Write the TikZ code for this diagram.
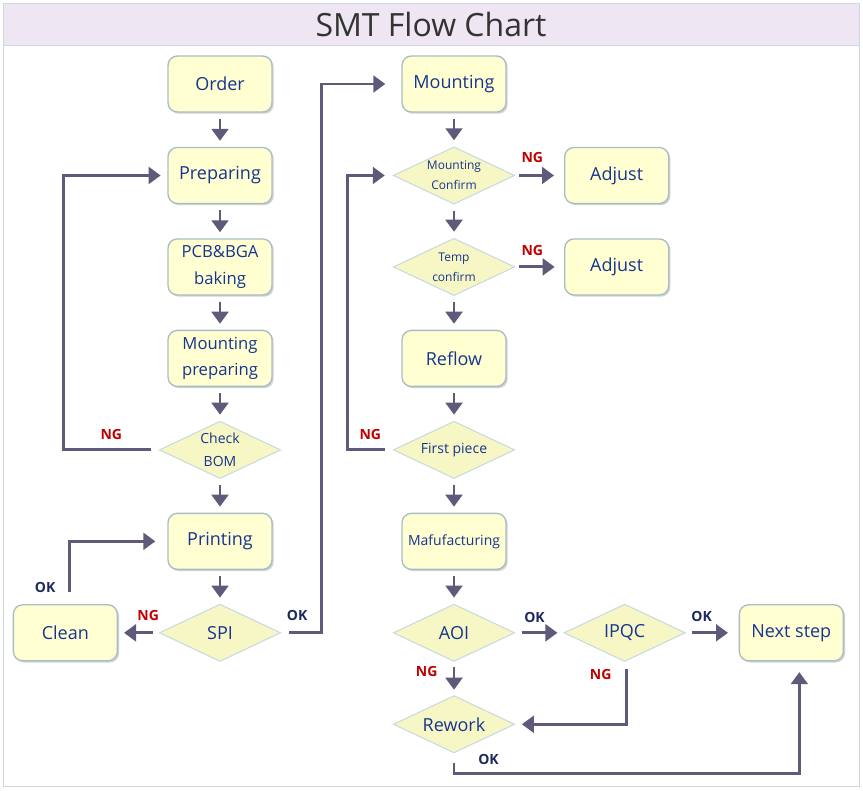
\documentclass[tikz,border=0pt]{standalone}
\usepackage{fontspec}
\setmainfont{Open Sans}
\usepackage{tikz}
\usetikzlibrary{arrows.meta,shapes.geometric,shadows,positioning}
\definecolor{boxfill}{HTML}{FFFFD2}
\definecolor{boxline}{HTML}{A9BDC6}
\definecolor{dmdfill}{HTML}{F7F7C6}
\definecolor{dmdline}{HTML}{C9DADF}
\definecolor{txt}{HTML}{17358E}
\definecolor{arr}{HTML}{5E5A7A}
\definecolor{ngred}{HTML}{C00000}
\definecolor{okblue}{HTML}{1F2A5C}
\definecolor{band}{HTML}{EEE6F2}
\definecolor{frame}{HTML}{D3D6E0}
\tikzset{node distance=68.6pt,
  box/.style={draw=boxline, line width=1pt, fill=boxfill, rounded corners=7pt,
    minimum width=78pt, minimum height=42pt, text=txt, align=center,
    font=\fontsize{13.5}{16}\selectfont,
    drop shadow={shadow xshift=1.3pt, shadow yshift=-1.3pt, opacity=0.35}},
  dmd/.style={diamond, aspect=2.1, draw=dmdline, line width=0.8pt, fill=dmdfill,
    minimum width=91pt, minimum height=43pt, inner sep=0pt, text=txt, align=center,
    font=\fontsize{13.5}{16}\selectfont},
  flow/.style={draw=arr, line width=2.2pt, -{Triangle[width=12.5pt,length=9pt]}},
  ng/.style={text=ngred, font=\bfseries\fontsize{10.5}{12}\selectfont},
  ok/.style={text=okblue, font=\bfseries\fontsize{10.5}{12}\selectfont}}
\begin{document}
\begin{tikzpicture}[x=0.75pt,y=-0.75pt]
                \useasboundingbox (0,0) rectangle (863,790);
                \draw[frame, fill=white] (3,3) rectangle (859,786);
                \draw[frame, fill=band] (3,3) rectangle (859,45);
                \node[text=black!80, font=\fontsize{24}{28}\selectfont] (ttl) at (431,24) {SMT Flow Chart};
                \node[box] (ord) at (220,84) {Order};
                \node[box, below of=ord] (prep) {Preparing};
                \node[box, below of=prep, font=\fontsize{12.5}{20}\selectfont] (pcb) {PCB\&BGA\\baking};
                \node[box, below of=pcb, font=\fontsize{12.5}{20}\selectfont] (mprep) {Mounting\\preparing};
                \node[dmd, below of=mprep, font=\fontsize{10.5}{17}\selectfont] (chk) {Check\\BOM};
                \node[box, below of=chk] (prt) {Printing};
                \node[dmd, below of=prt] (spi) {SPI};
                \node[box, left of=spi, node distance=116pt] (cln) {Clean};
                \node[box] (mnt) at (454,84) {Mounting};
                \node[dmd, below of=mnt, font=\fontsize{9}{15}\selectfont] (mc) {Mounting\\Confirm};
                \node[box, right of=mc, node distance=122pt] (adj1) {Adjust};
                \node[dmd, below of=mc, font=\fontsize{9}{15}\selectfont] (tmp) {Temp\\confirm};
                \node[box, right of=tmp, node distance=122pt] (adj2) {Adjust};
                \node[box, below of=tmp] (rfl) {Reflow};
                \node[dmd, below of=rfl, font=\fontsize{10.5}{12}\selectfont] (fp) {First piece};
                \node[box, below of=fp, font=\fontsize{10.5}{12}\selectfont] (maf) {Mafufacturing};
                \node[dmd, below of=maf] (aoi) {AOI};
                \node[dmd, right of=aoi, node distance=128pt] (ipqc) {IPQC};
                \node[box, right of=ipqc, node distance=125pt] (nxt) {Next step};
                \node[dmd, below of=aoi] (rwk) {Rework};
                \foreach \a/\b in {ord/prep, prep/pcb, pcb/mprep, mprep/chk, chk/prt, prt/spi,
                  mnt/mc, mc/tmp, tmp/rfl, rfl/fp, fp/maf, maf/aoi}
                  \draw[flow, shorten <=4.5pt, shorten >=4.5pt] (\a) -- (\b);
                \draw[flow, shorten <=6pt, shorten >=5pt] (chk.west) -- node[ng, above=3pt] {NG} ++(-95,0) |- (prep.west);
                \draw[flow, shorten <=4pt, shorten >=4.5pt] (spi.west) -- node[ng, above=5pt, pos=0.26] {NG} (cln.east);
                \draw[flow, shorten <=9pt, shorten >=9pt] ([xshift=3pt]cln.north) |- node[ok, left=6pt, pos=0.13] {OK} (prt.west);
                \draw[flow, shorten <=6pt, shorten >=12pt] (spi.east) -- node[ok, above=5pt, pos=0.4] {OK} ++(40,0) |- (mnt.west);
                \draw[flow, shorten <=6pt, shorten >=6pt] (fp.west) -- node[ng, above=3pt] {NG} ++(-45,0) |- (mc.west);
                \draw[flow, shorten <=3pt, shorten >=7.5pt] (mc.east) -- node[ng, above=5pt, pos=0.35] {NG} (adj1.west);
                \draw[flow, shorten <=3pt, shorten >=7pt] (tmp.east) -- node[ng, above=4pt, pos=0.35] {NG} (adj2.west);
                \draw[flow, shorten <=5pt, shorten >=4.5pt] (aoi.east) -- node[ok, above=3pt, pos=0.4] {OK} (ipqc.west);
                \draw[flow, shorten <=4.5pt, shorten >=8pt] (ipqc.east) -- node[ok, above=4pt, pos=0.3] {OK} (nxt.west);
                \draw[flow, shorten <=4pt, shorten >=4pt] (aoi) -- node[ng, left=8pt, pos=0.3] {NG} (rwk);
                \draw[flow, shorten <=5pt, shorten >=5pt] ([xshift=1.5pt]ipqc.south) |- node[ng, left=7pt, pos=0.1] {NG} (rwk.east);
                \draw[flow, shorten <=7pt, shorten >=8pt] (rwk.south) -- ++(0,20) -| node[ok, above=2pt, pos=0.05] {OK} ([xshift=6pt]nxt.south);
              \end{tikzpicture}
\end{document}
